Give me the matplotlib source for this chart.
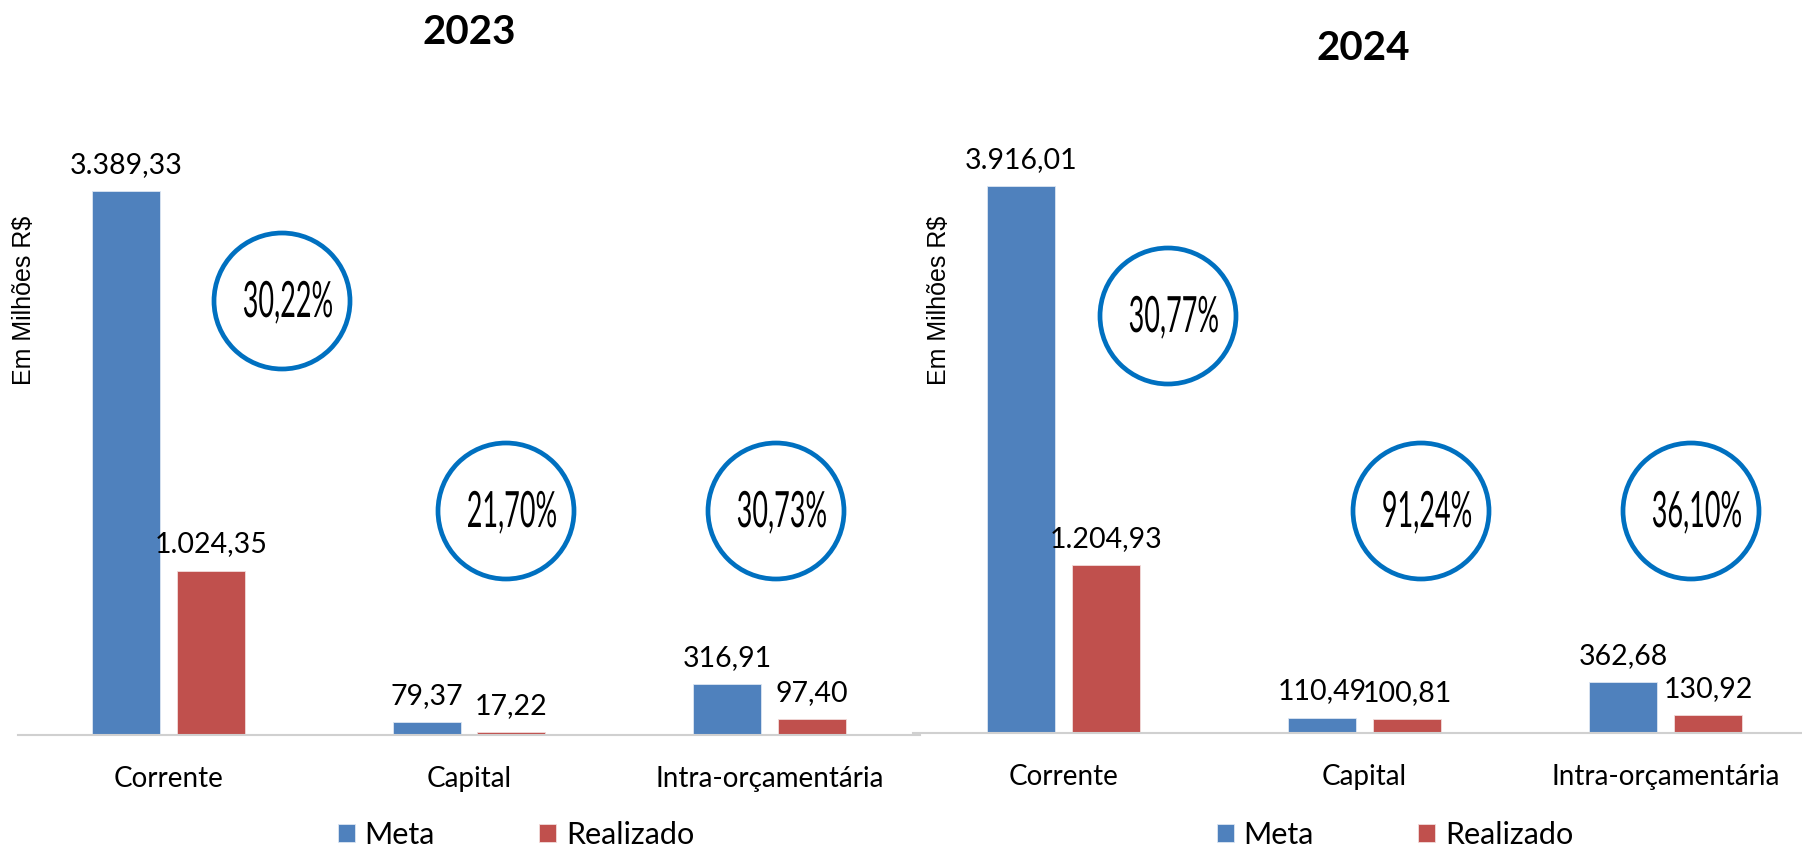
import numpy as np
import matplotlib.pyplot as plt
from matplotlib.patches import Ellipse
from matplotlib.patheffects import AbstractPathEffect
from matplotlib.transforms import Affine2D

# dados
categorias = ["Corrente", "Capital", "Intra-orçamentária"]
anos = ["2023", "2024"]
meta_2023 = [3389.33, 79.37, 316.91]
realizado_2023 = [1024.35, 17.22, 97.40]
meta_2024 = [3916.01, 110.49, 362.68]
realizado_2024 = [1204.93, 100.81, 130.92]
perc_2023 = ["30,22%", "21,70%", "30,73%"]
perc_2024 = ["30,77%", "91,24%", "36,10%"]

cor_meta = "#4F81BD"
cor_real = "#C0504D"
cor_circ = "#0070C0"

W, H = 1802, 849
fig = plt.figure(figsize=(W / 100, H / 100), dpi=100)
plt.rcParams['font.family'] = ['Lato', 'DejaVu Sans']


class Condensado(AbstractPathEffect):
    # aperta o texto na horizontal (fonte estreita tipo Calibri condensada)
    def __init__(self, sx):
        super().__init__()
        self.sx = sx

    def draw_path(self, renderer, gc, tpath, affine, rgbFace=None):
        ext = tpath.get_extents()
        cx = (ext.x0 + ext.x1) / 2
        t = Affine2D().translate(-cx, 0).scale(self.sx, 1).translate(cx, 0) + affine
        renderer.draw_path(gc, tpath, t, rgbFace)


def fmt(v):
    s = f"{v:,.2f}"
    return s.replace(",", "X").replace(".", ",").replace("X", ".")


# posicoes em pixels (layout)
paineis = [
    dict(ax=[18, 735, 902, 635], ymax=3956, xmax=2.5, titulo=(469, 32),
         ylab=(24, 300), leg=(516, 835),
         circ=[(282, 301), (506, 511), (776, 511)]),
    dict(ax=[913, 733, 889, 633], ymax=4531, xmax=2.4535, titulo=(1363, 48),
         ylab=(939, 300), leg=(1395, 835),
         circ=[(1168, 316), (1421, 511), (1691, 511)]),
]
dados = [(meta_2023, realizado_2023, perc_2023), (meta_2024, realizado_2024, perc_2024)]

x = np.arange(len(categorias))
larg = 0.226
desl = 0.141

for p, (meta, real, perc), ano in zip(paineis, dados, anos):
    l, b, w, h = p["ax"]
    ax = fig.add_axes([l / W, 1 - b / H, w / W, h / H])
    b1 = ax.bar(x - desl, meta, larg, color=cor_meta, edgecolor="#DCE6F2", linewidth=0.6, label="Meta")
    b2 = ax.bar(x + desl, real, larg, color=cor_real, edgecolor="#F2DCDB", linewidth=0.6, label="Realizado")
    for barras in (b1, b2):
        for r in barras:
            ax.annotate(fmt(r.get_height()), (r.get_x() + r.get_width() / 2, r.get_height()),
                        xytext=(0, 13), textcoords="offset points", ha="center", va="baseline",
                        fontsize=20.5)
    ax.set_xlim(-0.5, p["xmax"])
    ax.set_ylim(0, p["ymax"])
    ax.set_xticks(x)
    ax.set_xticklabels(categorias, fontsize=20)
    ax.tick_params(axis="x", length=0, pad=22)
    ax.set_yticks([])
    for s in ("top", "right", "left"):
        ax.spines[s].set_visible(False)
    ax.spines["bottom"].set_color("#D0D0D0")
    ax.spines["bottom"].set_linewidth(1.5)
    ax.patch.set_alpha(0)

    fig.text(p["titulo"][0] / W, 1 - p["titulo"][1] / H, ano, ha="center", va="center",
             fontsize=29, fontweight="bold")
    fig.text(p["ylab"][0] / W, 1 - p["ylab"][1] / H, "Em Milhões R$", rotation=90,
             ha="center", va="center", fontsize=18, family=["Liberation Sans", "DejaVu Sans"])

    for (cx, cy), t in zip(p["circ"], perc):
        fig.add_artist(Ellipse((cx / W, 1 - cy / H), 136 / W, 136 / H, transform=fig.transFigure,
                               facecolor="white", edgecolor=cor_circ, linewidth=3.4))
        fig.text((cx + 6) / W, 1 - (cy + 2) / H, t, ha="center", va="center", fontsize=36,
                 path_effects=[Condensado(0.54)])

    fig.legend(handles=[b1, b2], loc="center", bbox_to_anchor=(p["leg"][0] / W, 1 - p["leg"][1] / H),
               ncol=2, frameon=False, fontsize=22, handlelength=0.55, handleheight=0.55,
               handletextpad=0.33, columnspacing=3.4, borderpad=0)

fig.savefig("out.png", dpi=100)
